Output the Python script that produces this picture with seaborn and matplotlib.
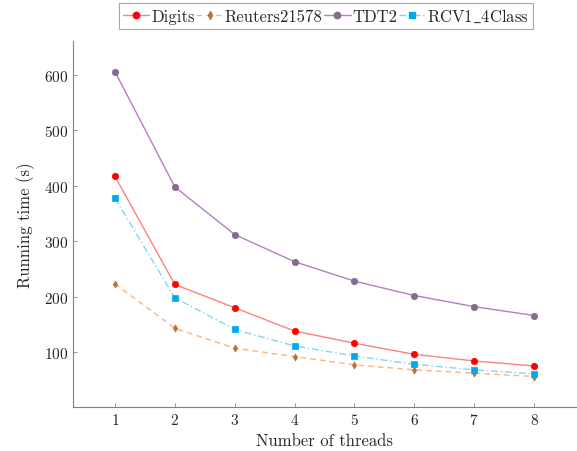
import matplotlib
matplotlib.use("Agg")
import matplotlib.pyplot as plt
import seaborn as sns
import pandas as pd

threads = [1, 2, 3, 4, 5, 6, 7, 8]
digits = [417, 222, 180, 138, 116, 96, 84, 75]
reuters = [223, 143, 107, 92, 77, 68, 62, 56]
tdt2 = [606, 398, 312, 263, 228, 202, 182, 166]
rcv1 = [378, 198, 141, 111, 93, 78, 68, 61]
names = ["Digits", "Reuters21578", "TDT2", "RCV1\\_4Class"]

sns.set_style("white")
plt.rcParams['font.family'] = ['cmr10', 'DejaVu Serif']
plt.rcParams['mathtext.fontset'] = 'cm'
plt.rcParams['axes.formatter.use_mathtext'] = True

fig = plt.figure(figsize=(5.77, 4.52), dpi=100)
ax = fig.add_axes([73/577, 1-408/452, (576-73)/577, (408-42)/452])

styles = [
    dict(name="Digits", y=digits, line="#ff8080", mk="o", mc="#ff0000", ls="-", ms=4.6),
    dict(name="Reuters21578", y=reuters, line="#ffb27f", mk="d", mc="#b5713f", ls=(0, (4, 3)), ms=3.6),
    dict(name="TDT2", y=tdt2, line="#b57fc2", mk="o", mc="#85698f", ls="-", ms=4.6),
    dict(name="RCV1_4Class", y=rcv1, line="#7fd6f7", mk="s", mc="#00a8ec", ls=(0, (5, 2, 1, 2)), ms=4.0),
]

handles = []
for s in styles:
    df = pd.DataFrame({"x": threads, "y": s["y"]})
    sns.lineplot(data=df, x="x", y="y", ax=ax, color=s["line"], linestyle=s["ls"],
                 linewidth=1.0, marker=None)
    sns.scatterplot(data=df, x="x", y="y", ax=ax, color=s["mc"], marker=s["mk"],
                    s=s["ms"]**2, edgecolor=s["mc"], linewidth=0.5, zorder=3)
    h = matplotlib.lines.Line2D([], [], color=s["line"], linestyle=s["ls"], linewidth=1.0,
                                marker=s["mk"], markerfacecolor=s["mc"], markeredgecolor=s["mc"],
                                markersize=s["ms"])
    handles.append(h)

labels = ["Digits", "Reuters21578", "TDT2", r"RCV1$\_$4Class"]
ax.set_xlim(0.3, 8.7)
ax.set_ylim(1, 661)
ax.set_xticks(threads)
ax.set_yticks([100, 200, 300, 400, 500, 600])
ax.set_xlabel("Number of threads", fontsize=12)
ax.set_ylabel("Running time (s)", fontsize=12, labelpad=6)
ax.tick_params(direction="in", length=3, width=0.6, color="#808080", labelsize=11,
               left=True, bottom=True)
for sp in ["top", "right"]:
    ax.spines[sp].set_visible(False)
for sp in ["left", "bottom"]:
    ax.spines[sp].set_color("#808080")
    ax.spines[sp].set_linewidth(0.8)

leg = fig.legend(handles, labels, loc="upper center", bbox_to_anchor=(326/577, 1-4/452),
                 ncol=4, frameon=True, fancybox=False, fontsize=12, handlelength=1.6,
                 handletextpad=0.1, columnspacing=0.1, borderpad=0.25, borderaxespad=0)
leg.get_frame().set_edgecolor("#909090")
leg.get_frame().set_linewidth(0.8)

fig.savefig("out.png", dpi=100)
